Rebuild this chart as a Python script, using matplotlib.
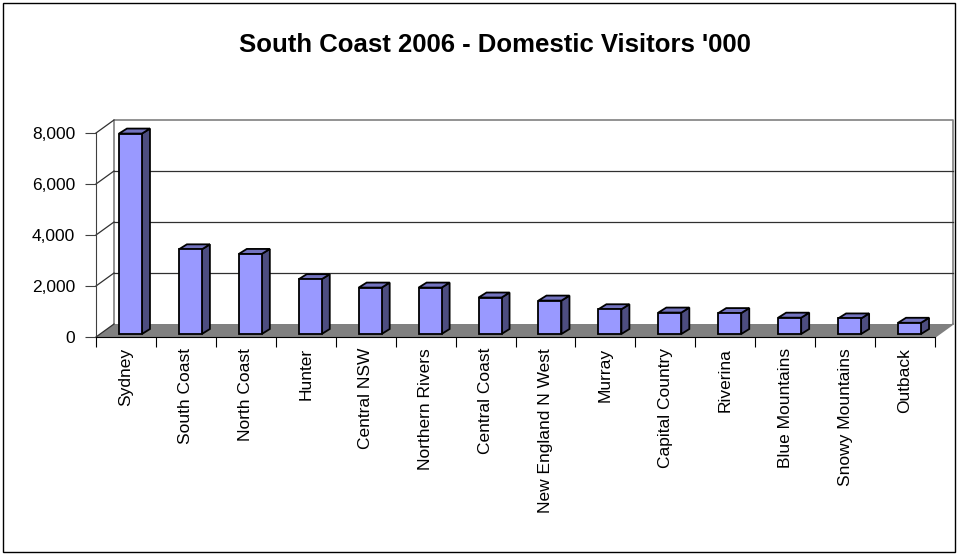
import numpy as np
import matplotlib
matplotlib.use('Agg')
import matplotlib.pyplot as plt
from matplotlib.patches import Polygon, Rectangle

plt.rcParams['font.family'] = ['Liberation Sans', 'DejaVu Sans']

regions = ['Sydney', 'South Coast', 'North Coast', 'Hunter', 'Central NSW',
           'Northern Rivers', 'Central Coast', 'New England N West', 'Murray',
           'Capital Country', 'Riverina', 'Blue Mountains', 'Snowy Mountains',
           'Outback']
visitors = [7860, 3320, 3140, 2150, 1820, 1820, 1430, 1310, 970, 840, 820,
            640, 610, 440]
yticks = [0, 2000, 4000, 6000, 8000]
title = "South Coast 2006 - Domestic Visitors '000"

W, H = 958, 555
fig = plt.figure(figsize=(W / 100, H / 100), dpi=100)

# plot area (front plane) in pixels
px_l, px_r, px_0, px_top = 96, 935, 337, 133
ax = fig.add_axes([px_l / W, 1 - px_0 / H, (px_r - px_l) / W, (px_0 - px_top) / H])
n = len(regions)
ymax = yticks[-1]
ax.set_xlim(0, n)
ax.set_ylim(0, ymax)

# pixel -> data scales
sx = n / (px_r - px_l)
sy = ymax / (px_0 - px_top)

# depth of the 3d box
DX, DY = 18 * sx, 13 * sy
wall = '#808080'

# floor
ax.add_patch(Polygon([(0, 0), (n, 0), (n + DX, DY), (DX, DY)], closed=True,
                     facecolor='#808080', edgecolor='none', clip_on=False, zorder=1))
# back wall border
ax.plot([DX, DX, n + DX, n + DX], [DY, ymax + DY, ymax + DY, DY], color=wall,
        lw=1.2, clip_on=False, zorder=1)
ax.plot([n, n + DX], [0, DY], color=wall, lw=1.2, clip_on=False, zorder=1)
# gridlines: left wall diagonals and back wall horizontals
for t in yticks:
    ax.plot([0, DX], [t, t + DY], color='#303030', lw=0.9, clip_on=False, zorder=1)
    if 0 < t < ymax:
        ax.plot([DX, n + DX], [t + DY, t + DY], color='#303030', lw=0.9,
                clip_on=False, zorder=1)

# bars
bw = 23 * sx
shift_x, shift_y = 4.5 * sx, 3 * sy
bdx, bdy = 8 * sx, 5 * sy
for i, v in enumerate(visitors):
    x0 = i + 0.5 - bw / 2 + shift_x
    y0 = shift_y
    side = [(x0 + bw, y0), (x0 + bw + bdx, y0 + bdy),
            (x0 + bw + bdx, y0 + v + bdy), (x0 + bw, y0 + v)]
    top = [(x0, y0 + v), (x0 + bw, y0 + v), (x0 + bw + bdx, y0 + v + bdy),
           (x0 + bdx, y0 + v + bdy)]
    ax.add_patch(Polygon(side, closed=True, facecolor='#4d4d80', edgecolor='black',
                         lw=1.3, clip_on=False, zorder=3))
    ax.add_patch(Polygon(top, closed=True, facecolor='#7373bf', edgecolor='black',
                         lw=1.3, clip_on=False, zorder=3))
    ax.add_patch(Rectangle((x0, y0), bw, v, facecolor='#9999ff', edgecolor='black',
                           lw=1.3, clip_on=False, zorder=3))

# axes
for s in ['top', 'right']:
    ax.spines[s].set_visible(False)
ax.spines['left'].set_color('#404040')
ax.spines['bottom'].set_color('black')
ax.patch.set_visible(False)
ax.set_yticks(yticks)
ax.set_yticklabels([f'{t:,}' for t in yticks], fontsize=12.5)
ax.set_xticks(np.arange(n + 1))
ax.set_xticklabels([])
ax.set_xticks(np.arange(n) + 0.5, minor=True)
ax.set_xticklabels(regions, minor=True, rotation=90, fontsize=12.5, va='top')
ax.tick_params(axis='x', which='major', length=7, direction='out', color='black')
ax.tick_params(axis='x', which='minor', length=0, pad=8)
ax.tick_params(axis='y', length=8, direction='out', pad=7, color='#404040')

fig.text(495 / W, 1 - 52.5 / H, title, ha='center', va='baseline',
         fontsize=18.5, fontweight='bold')

# chart border
fig.add_artist(Rectangle((3 / W, 3 / H), (W - 6) / W, (H - 6) / H,
                         transform=fig.transFigure, fill=False, edgecolor='black', lw=1))

fig.savefig('out.png', dpi=100)
